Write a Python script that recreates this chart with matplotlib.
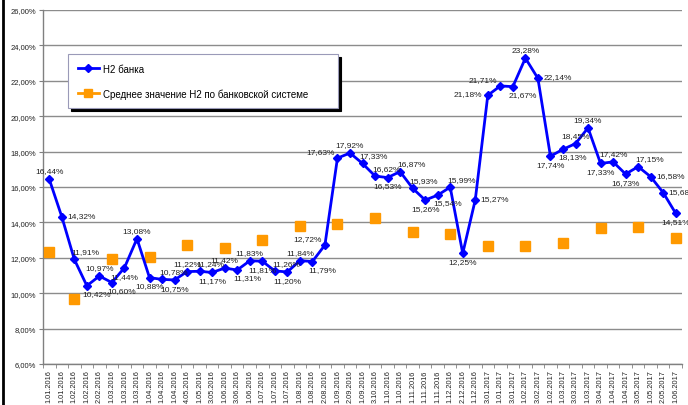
import matplotlib
matplotlib.use("Agg")
import matplotlib.pyplot as plt
from matplotlib.lines import Line2D
from matplotlib.ticker import FuncFormatter, FixedLocator

plt.rcParams['font.family'] = ['Liberation Sans', 'DejaVu Sans']

# tick labels as they appear (cut at the bottom edge of the picture)
dates = [
    "1.01.2016", "1.01.2016", "1.02.2016", "1.02.2016", "2.02.2016", "1.03.2016",
    "1.03.2016", "1.03.2016", "1.04.2016", "1.04.2016", "1.04.2016", "4.05.2016",
    "1.05.2016", "3.05.2016", "1.06.2016", "3.06.2016", "1.06.2016", "1.07.2016",
    "1.07.2016", "1.07.2016", "1.08.2016", "1.08.2016", "2.08.2016", "1.09.2016",
    "2.09.2016", "1.09.2016", "3.10.2016", "1.10.2016", "1.10.2016", "1.11.2016",
    "1.11.2016", "1.11.2016", "1.12.2016", "2.12.2016", "1.12.2016", "3.01.2017",
    "1.01.2017", "3.01.2017", "1.02.2017", "3.02.2017", "1.02.2017", "1.03.2017",
    "3.03.2017", "1.03.2017", "3.04.2017", "1.04.2017", "1.04.2017", "3.05.2017",
    "1.05.2017", "2.05.2017", "1.06.2017",
]

# N2 of the bank, %
bank_n2 = [
    16.44, 14.32, 11.91, 10.42, 10.97, 10.60, 11.44, 13.08, 10.88, 10.78,
    10.75, 11.22, 11.24, 11.17, 11.42, 11.31, 11.83, 11.81, 11.26, 11.20,
    11.84, 11.79, 12.72, 17.63, 17.92, 17.33, 16.62, 16.53, 16.87, 15.93,
    15.26, 15.54, 15.99, 12.25, 15.27, 21.18, 21.71, 21.67, 23.28, 22.14,
    17.74, 18.13, 18.45, 19.34, 17.33, 17.42, 16.73, 17.15, 16.58, 15.68,
    14.51,
]

# banking system average, given on every third date
avg_idx = [0, 2, 5, 8, 11, 14, 17, 20, 23, 26, 29, 32, 35, 38, 41, 44, 47, 50]
avg_n2 = [12.33, 9.67, 11.93, 12.05, 12.72, 12.55, 13.02, 13.81, 13.90,
          14.25, 13.45, 13.34, 12.67, 12.66, 12.83, 13.70, 13.75, 13.12]

# where each data label sits relative to its point
label_pos = [
    'a', 'r', 'ar', 'br', 'a', 'br', 'b', 'a', 'b', 'ar',
    'b', 'a', 'ar', 'b', 'a', 'br', 'a', 'b', 'ar', 'b',
    'a', 'br', 'al', 'al', 'a', 'ar', 'ar', 'b', 'ar', 'ar',
    'b', 'br', 'ar', 'b', 'r', 'l', 'al', 'br', 'a', 'r',
    'b', 'br', 'a', 'a', 'b', 'a', 'b', 'ar', 'r', 'r',
    'b',
]

blue = '#0000FF'
orange = '#FF9900'

fig = plt.figure(figsize=(6.88, 4.06), dpi=100)
ax = fig.add_axes([43 / 688, 41 / 406, 639 / 688, 354 / 406])

x = list(range(len(bank_n2)))
ax.plot(x, bank_n2, color=blue, lw=2, marker='D', markersize=4.2, zorder=4)
ax.plot(avg_idx, avg_n2, ls='none', marker='s', markersize=6.8,
        color=orange, zorder=3)

offsets = {'a': ((0, 3.5), 'center', 'bottom'),
           'b': ((0, -3.5), 'center', 'top'),
           'r': ((4, 1), 'left', 'center'),
           'l': ((-4, 1), 'right', 'center'),
           'ar': ((8, 3), 'center', 'bottom'),
           'br': ((7, -3), 'center', 'top'),
           'al': ((-2, 2), 'right', 'bottom')}
for xi, v, p in zip(x, bank_n2, label_pos):
    off, ha, va = offsets[p]
    ax.annotate(f"{v:.2f}%".replace('.', ','), (xi, v), xytext=off,
                textcoords='offset points', ha=ha, va=va, fontsize=6,
                color='#222222', zorder=5, annotation_clip=False)

ax.set_ylim(6, 26)
ax.set_yticks(range(6, 27, 2))
ax.yaxis.set_major_formatter(FuncFormatter(lambda v, _: f"{v:.2f}%".replace('.', ',')))
ax.set_xlim(-0.5, len(bank_n2) - 0.5)

ax.set_xticks(x)
ax.set_xticklabels(dates, rotation=90, fontsize=5.3, color='#222222')
ax.tick_params(axis='x', length=0, pad=4)
ax.xaxis.set_minor_locator(FixedLocator([i + 0.5 for i in range(-1, len(x))]))
ax.tick_params(axis='x', which='minor', length=3, color='#808080', direction='out')
ax.tick_params(axis='y', labelsize=5.5, labelcolor='#222222', length=3,
               color='#808080', pad=2)

ax.grid(axis='y', color='#8c8c8c', lw=1)
ax.set_axisbelow(True)
for s in ['top', 'right']:
    ax.spines[s].set_visible(False)
for s in ['left', 'bottom']:
    ax.spines[s].set_color('#808080')
    ax.spines[s].set_linewidth(1)

handles = [
    Line2D([], [], color=blue, lw=2, marker='D', markersize=4.2),
    Line2D([], [], color=orange, lw=2, marker='s', markersize=5.5),
]
leg = ax.legend(handles, ["H2 банка", "Среднее значение Н2 по банковской системе"],
                loc='upper left',
                bbox_to_anchor=(25 / 639, 1 - 44 / 354 - 0.15, 270 / 639, 0.15),
                mode='expand', borderaxespad=0, fontsize=7, fancybox=False,
                handlelength=2.2, handletextpad=0.4, labelspacing=1.5,
                borderpad=1.0, shadow={'color': 'black', 'alpha': 1})
leg.get_frame().set_edgecolor('#9a9ab8')
leg.get_frame().set_linewidth(0.8)

fig.add_artist(Line2D([3 / 688, 3 / 688], [0, 1], transform=fig.transFigure,
                      color='black', lw=2))

fig.savefig('out.png', dpi=100)
